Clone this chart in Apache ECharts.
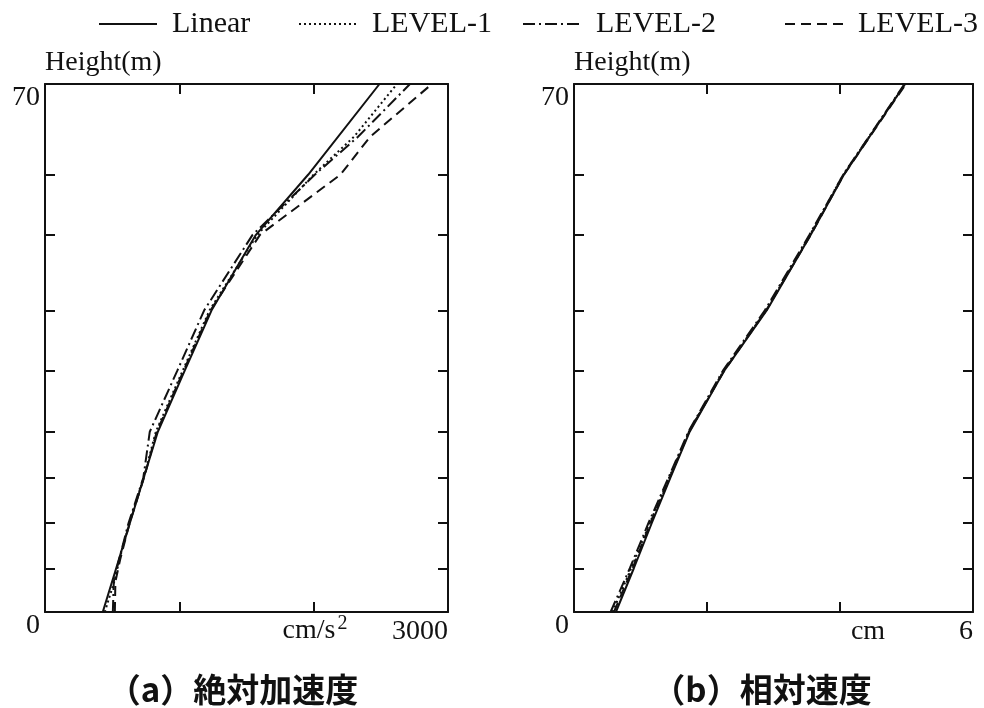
<!DOCTYPE html>
<html>
<head>
<meta charset="utf-8">
<script src="https://cdn.jsdelivr.net/npm/echarts@6/dist/echarts.min.js"></script>
<style>html,body{margin:0;padding:0;background:#fff}#c{width:984px;height:708px}</style>
</head>
<body>
<div id="c"></div>
<script>
// ---- data ----
const floorTicks = [5.8, 11.8, 17.8, 23.9, 32, 40, 50, 58];
const seriesNames = ['Linear', 'LEVEL-1', 'LEVEL-2', 'LEVEL-3'];

// (a) absolute acceleration (cm/s^2) vs height (m)
const aLinearH = [0, 5.8, 11.8, 17.8, 23.9, 32, 40, 50, 58, 70];
const aLinear  = [430, 530, 632, 735, 840, 1040, 1240, 1570, 1960, 2490];
const aLevelH  = [0, 4, 7, 11.8, 17.8, 23.9, 32, 40, 50, 58, 63, 70];
const aLevel1  = [445, 515, 555, 628, 735, 825, 1025, 1225, 1580, 2000, 2300, 2620];
const aLevel2  = [505, 512, 552, 622, 732, 780, 985, 1185, 1545, 2010, 2330, 2717];
const aLevel3  = [520, 524, 560, 630, 737, 832, 1032, 1232, 1600, 2200, 2420, 2880];

// (b) relative velocity (cm) vs height (m)
const bH       = [0, 5.8, 11.8, 17.8, 23.9, 32, 40, 50, 58, 70];
const bLinear  = [0.63, 0.90, 1.17, 1.45, 1.74, 2.26, 2.90, 3.56, 4.06, 4.98];
const bLevel1  = [0.58, 0.86, 1.14, 1.43, 1.73, 2.25, 2.89, 3.55, 4.05, 4.98];
const bLevel2  = [0.55, 0.84, 1.12, 1.42, 1.72, 2.24, 2.87, 3.54, 4.05, 4.97];
const bLevel3  = [0.60, 0.88, 1.15, 1.44, 1.73, 2.26, 2.89, 3.56, 4.06, 4.99];

const aXTicks = [1000, 2000];
const bXTicks = [2, 4];

// ---- build ----
const SERIF = '"Liberation Serif", "DejaVu Serif", serif';
const INK = '#111';
const dashTypes = ['solid', [2, 3], [12, 4, 2, 4], [10, 6]];
const legendLefts = [98, 298, 522, 784];

function pairs(xs, hs) { return xs.map((v, i) => [v, hs[i]]); }

function mkSeries(name, idx, data, axisIdx) {
  return {
    name, type: 'line', xAxisIndex: axisIdx, yAxisIndex: axisIdx,
    data, symbol: 'none', silent: true, animation: false,
    lineStyle: { color: INK, width: 2, type: dashTypes[idx] },
    itemStyle: { color: INK }
  };
}

function tick(vals) {
  return { show: true, inside: true, length: 10, lineStyle: { color: INK, width: 2 }, customValues: vals };
}
function line() {
  return { show: true, onZero: false, lineStyle: { color: INK, width: 2 } };
}

function xAxes(grid, max, ticks, unit, unitGap, unitPadTop) {
  return [
    {
      type: 'value', gridIndex: grid, position: 'bottom', min: 0, max,
      axisLine: line(), axisTick: tick(ticks), splitLine: { show: false },
      axisLabel: { customValues: [max], formatter: v => String(v), align: 'right', margin: 6,
                   fontSize: 28, fontFamily: SERIF, color: INK },
      name: unit, nameLocation: 'end', nameGap: unitGap,
      nameTextStyle: { align: 'center', verticalAlign: 'top', padding: [unitPadTop, 0, 0, 0], fontSize: 28, fontFamily: SERIF, color: INK,
        rich: {
          u: { fontSize: 28, fontFamily: SERIF, color: INK },
          s: { fontSize: 20, fontFamily: SERIF, color: INK, padding: [0, 0, 14, 2] }
        } }
    },
    {
      type: 'value', gridIndex: grid, position: 'top', min: 0, max,
      axisLine: line(), axisTick: tick(ticks), splitLine: { show: false }, axisLabel: { show: false }
    }
  ];
}

function yAxes(grid) {
  return [
    {
      type: 'value', gridIndex: grid, position: 'left', min: 0, max: 70,
      axisLine: line(), axisTick: tick(floorTicks), splitLine: { show: false },
      axisLabel: { customValues: [0, 70], verticalAlign: 'top', margin: 5, fontSize: 28, fontFamily: SERIF, color: INK },
      name: 'Height(m)', nameLocation: 'end', nameGap: 21,
      nameTextStyle: { align: 'left', verticalAlign: 'middle', fontSize: 28, fontFamily: SERIF, color: INK }
    },
    {
      type: 'value', gridIndex: grid, position: 'right', min: 0, max: 70,
      axisLine: line(), axisTick: tick(floorTicks), splitLine: { show: false }, axisLabel: { show: false }
    }
  ];
}

const series = [
  mkSeries(seriesNames[0], 0, pairs(aLinear, aLinearH), 0),
  mkSeries(seriesNames[1], 1, pairs(aLevel1, aLevelH), 0),
  mkSeries(seriesNames[2], 2, pairs(aLevel2, aLevelH), 0),
  mkSeries(seriesNames[3], 3, pairs(aLevel3, aLevelH), 0),
  mkSeries(seriesNames[0], 0, pairs(bLinear, bH), 2),
  mkSeries(seriesNames[1], 1, pairs(bLevel1, bH), 2),
  mkSeries(seriesNames[2], 2, pairs(bLevel2, bH), 2),
  mkSeries(seriesNames[3], 3, pairs(bLevel3, bH), 2)
];

const xa = xAxes(0, 3000, aXTicks, '{u|cm/s}{s|2}', -133, 2).concat(xAxes(1, 6, bXTicks, '{u|cm}', -105, 6));
const ya = yAxes(0).concat(yAxes(1));

const legends = seriesNames.map((n, i) => ({
  data: [n], left: legendLefts[i], top: 9, padding: 0, itemWidth: 58, itemHeight: 14,
  selectedMode: false,
  itemStyle: { color: 'transparent', borderColor: 'transparent', borderWidth: 0 },
  textStyle: { fontSize: 30, fontFamily: SERIF, color: INK, padding: [0, 0, 0, 10] }
}));

const chart = echarts.init(document.getElementById('c'), null, { renderer: 'canvas' });
chart.setOption({
  animation: false,
  backgroundColor: '#fff',
  grid: [
    { left: 45, top: 84, width: 403, height: 528, containLabel: false },
    { left: 574, top: 84, width: 399, height: 528, containLabel: false }
  ],
  xAxis: xa,
  yAxis: ya,
  legend: legends,
  title: [
    { text: '（a）絶対加速度', left: 228, top: 668, textAlign: 'center',
      textStyle: { fontSize: 33, fontWeight: 'bold', fontFamily: '"Noto Sans CJK JP", sans-serif', color: INK } },
    { text: '（b）相対速度', left: 757, top: 668, textAlign: 'center',
      textStyle: { fontSize: 33, fontWeight: 'bold', fontFamily: '"Noto Sans CJK JP", sans-serif', color: INK } }
  ],
  series
});
</script>
</body>
</html>
